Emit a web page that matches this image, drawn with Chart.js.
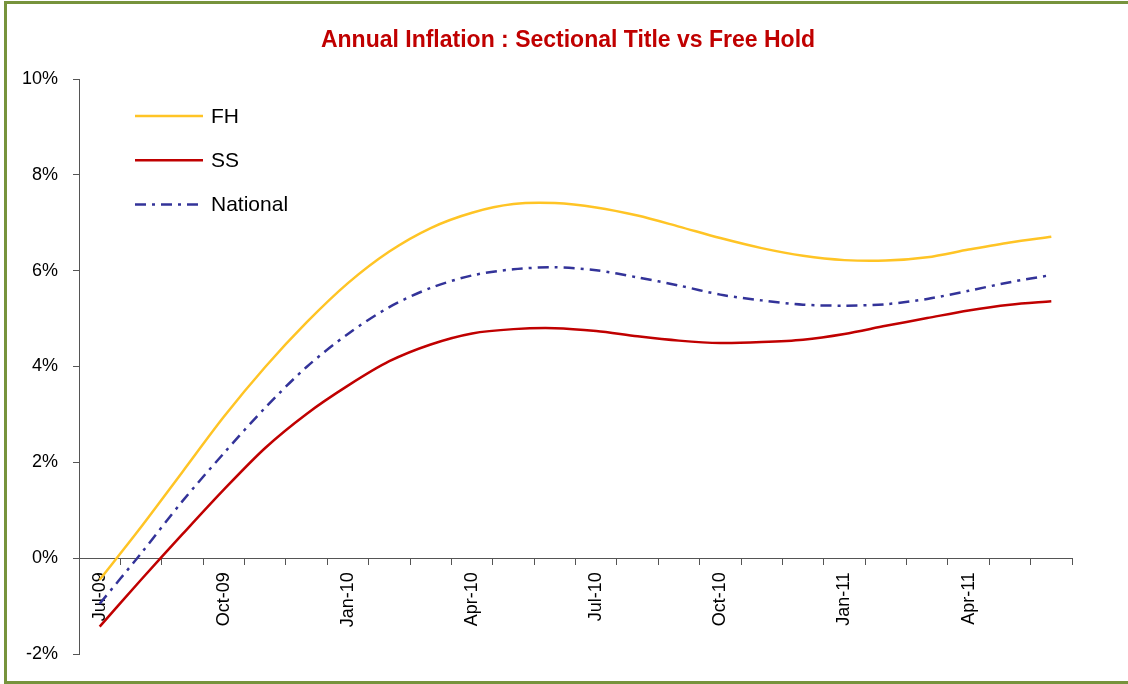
<!DOCTYPE html>
<html>
<head>
<meta charset="utf-8">
<title>Annual Inflation : Sectional Title vs Free Hold</title>
<script src="https://cdn.jsdelivr.net/npm/chart.js@4"></script>
<style>
    html, body {
        margin: 0;
        padding: 0;
        background: #ffffff;
        overflow: hidden;
    }
    .frame {
        position: absolute;
        left: 4px;
        top: 1px;
        width: 1200px;
        height: 677px;
        border: 3px solid #77933C;
    }
    .inflation-chart {
        position: absolute;
        left: 0;
        top: 0;
    }
</style>
</head>
<body>
<div class="frame"></div>
<canvas class="inflation-chart" width="1136" height="684"></canvas>

<script>
const months = ['Jul-09', 'Aug-09', 'Sep-09', 'Oct-09', 'Nov-09', 'Dec-09',
    'Jan-10', 'Feb-10', 'Mar-10', 'Apr-10', 'May-10', 'Jun-10',
    'Jul-10', 'Aug-10', 'Sep-10', 'Oct-10', 'Nov-10', 'Dec-10',
    'Jan-11', 'Feb-11', 'Mar-11', 'Apr-11', 'May-11', 'Jun-11'];

const fh = [-0.45, 0.65, 1.80, 2.95, 3.99, 4.92, 5.74, 6.40, 6.89, 7.21, 7.39, 7.41,
    7.32, 7.15, 6.92, 6.68, 6.47, 6.31, 6.22, 6.21, 6.28, 6.44, 6.59, 6.71];
const ss = [-1.43, -0.45, 0.50, 1.43, 2.30, 3.01, 3.60, 4.11, 4.46, 4.69, 4.78, 4.80,
    4.74, 4.63, 4.54, 4.49, 4.51, 4.56, 4.68, 4.85, 5.01, 5.17, 5.29, 5.36];
const national = [-0.95, 0.10, 1.19, 2.19, 3.14, 3.99, 4.68, 5.24, 5.64, 5.90, 6.03, 6.07,
    6.01, 5.86, 5.69, 5.50, 5.38, 5.29, 5.27, 5.30, 5.41, 5.58, 5.76, 5.91];

const yTicks = [-2, 0, 2, 4, 6, 8, 10];

const chartTitle = 'Annual Inflation : Sectional Title vs Free Hold';

const labelFont = "'Liberation Sans', Arial, sans-serif";
const axisColor = '#555555';

// title centred on the whole Excel frame (its right edge is cut off)
const frameTitle = {
    id: 'frameTitle',
    afterDraw(chart) {
        const c = chart.ctx;
        c.save();
        c.fillStyle = '#C00000';
        c.font = "bold 23px 'Liberation Sans Narrow', 'Liberation Sans', Arial, sans-serif";
        c.textAlign = 'center';
        c.textBaseline = 'alphabetic';
        c.fillText(chartTitle, 568, 47);
        c.restore();
    }
};

// legend drawn inside the plot, top left, like the Excel one
const insideLegend = {
    id: 'insideLegend',
    afterDraw(chart) {
        const c = chart.ctx;
        chart.data.datasets.forEach((ds, i) => {
            const y = 116 + i * 44.3;
            c.save();
            c.strokeStyle = ds.borderColor;
            c.lineWidth = ds.borderWidth;
            c.setLineDash(ds.borderDash || []);
            c.beginPath();
            c.moveTo(135, y);
            c.lineTo(203, y);
            c.stroke();
            c.setLineDash([]);
            c.fillStyle = '#000000';
            c.font = "21px " + labelFont;
            c.textBaseline = 'middle';
            c.fillText(ds.label, 211, y + 1);
            c.restore();
        });
    }
};

const ctx = document.querySelector('.inflation-chart');

new Chart(ctx, {
    type: 'line',
    data: {
        labels: months,
        datasets: [{
            label: 'FH',
            data: fh,
            borderColor: '#FFC425',
            borderWidth: 2.5,
            pointRadius: 0,
            tension: 0.3
        }, {
            label: 'SS',
            data: ss,
            borderColor: '#C00000',
            borderWidth: 2.5,
            pointRadius: 0,
            tension: 0.3
        }, {
            label: 'National',
            data: national,
            borderColor: '#333399',
            borderWidth: 2.5,
            borderDash: [11, 6, 3, 6],
            pointRadius: 0,
            tension: 0.3
        }]
    },
    options: {
        responsive: false,
        animation: false,
        layout: {
            padding: { left: 0, right: 64, top: 79, bottom: 30 }
        },
        scales: {
            x: {
                position: { y: 0 },
                offset: true,
                grid: {
                    offset: true,
                    drawOnChartArea: false,
                    drawTicks: true,
                    tickLength: 6,
                    color: axisColor
                },
                border: {
                    display: true,
                    color: axisColor,
                    width: 1
                },
                ticks: {
                    autoSkip: false,
                    maxRotation: 90,
                    minRotation: 90,
                    padding: 8,
                    color: '#000000',
                    font: { family: labelFont, size: 18 },
                    callback: function (value, index) {
                        return index % 3 === 0 ? months[index] : '';
                    }
                }
            },
            y: {
                min: yTicks[0],
                max: yTicks[yTicks.length - 1],
                afterFit: function (scale) {
                    scale.width = 79;
                },
                afterBuildTicks: function (scale) {
                    scale.ticks = yTicks.map(v => ({ value: v }));
                },
                grid: {
                    drawOnChartArea: false,
                    drawTicks: true,
                    tickLength: 6,
                    color: axisColor
                },
                border: {
                    display: true,
                    color: axisColor,
                    width: 1
                },
                ticks: {
                    padding: 15,
                    color: '#000000',
                    font: { family: labelFont, size: 18 },
                    callback: function (value) {
                        return value + '%';
                    }
                }
            }
        },
        plugins: {
            legend: {
                display: false
            },
            tooltip: {
                enabled: false
            },
            title: {
                display: false
            }
        }
    },
    plugins: [frameTitle, insideLegend]
});
</script>
</body>
</html>
